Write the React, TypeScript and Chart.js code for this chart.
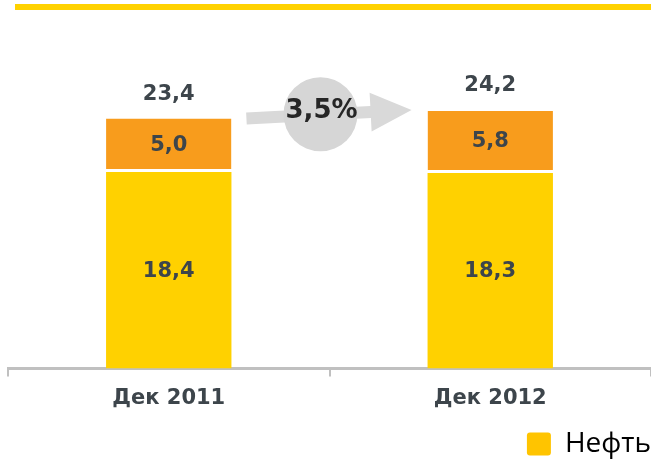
import React, { useEffect, useRef } from 'react';
import { Chart, registerables } from 'chart.js';

Chart.register(...registerables);

const categories = ['Дек 2011', 'Дек 2012'];
const oilValues = [18.4, 18.3];
const otherValues = [5.0, 5.8];
const totalValues = [23.4, 24.2];
const growthLabel = '3,5%';
const legendLabel = 'Нефть';

const YELLOW = '#FFD100';
const ORANGE = '#F89C1C';
const TEXT = '#3d454b';
const NUM_FONT = '"DejaVu Sans", sans-serif';

const fmt = (v: number) => v.toFixed(1).replace('.', ',');

const overlayPlugin = {
  id: 'overlay',
  afterDatasetsDraw(chart: any) {
    const ctx = chart.ctx;
    const y = chart.scales.y;
    const m0 = chart.getDatasetMeta(0);
    const m1 = chart.getDatasetMeta(1);
    ctx.save();
    ctx.textAlign = 'center';
    ctx.textBaseline = 'middle';
    ctx.fillStyle = TEXT;
    ctx.font = `bold 21px ${NUM_FONT}`;
    // segment labels
    m0.data.forEach((bar: any, i: number) => {
      const cy = (y.getPixelForValue(0) + y.getPixelForValue(oilValues[i])) / 2;
      ctx.fillText(fmt(oilValues[i]), bar.x, cy + 1);
    });
    m1.data.forEach((bar: any, i: number) => {
      const cy = (y.getPixelForValue(oilValues[i]) + y.getPixelForValue(totalValues[i])) / 2;
      ctx.fillText(fmt(otherValues[i]), bar.x, cy);
    });
    // totals
    m1.data.forEach((bar: any, i: number) => {
      const ty = y.getPixelForValue(totalValues[i]) - 24;
      ctx.fillText(fmt(totalValues[i]), bar.x, ty);
    });

    // arrow
    const b0 = m1.data[0];
    const b1 = m1.data[1];
    const x1 = b0.x + b0.width / 2 + 15;
    const y1 = y.getPixelForValue(totalValues[0]);
    const x2 = b1.x - b1.width / 2 - 16;
    const y2 = y.getPixelForValue(totalValues[1]);
    const L = Math.hypot(x2 - x1, y2 - y1);
    const ang = Math.atan2(y2 - y1, x2 - x1);
    ctx.save();
    ctx.translate(x1, y1);
    ctx.rotate(ang);
    ctx.fillStyle = '#d9d9d9';
    ctx.beginPath();
    ctx.moveTo(0, -6);
    ctx.lineTo(L - 41, -6);
    ctx.lineTo(L - 41, -19.5);
    ctx.lineTo(L, 0);
    ctx.lineTo(L - 41, 19.5);
    ctx.lineTo(L - 41, 6);
    ctx.lineTo(0, 6);
    ctx.closePath();
    ctx.fill();
    ctx.restore();

    // circle
    const cx = (b0.x + b1.x) / 2 - 9;
    const cyc = (y1 + y2) / 2;
    ctx.fillStyle = '#d6d6d6';
    ctx.beginPath();
    ctx.arc(cx, cyc, 37, 0, Math.PI * 2);
    ctx.fill();
    ctx.fillStyle = '#262626';
    ctx.font = `bold 26px ${NUM_FONT}`;
    ctx.fillText(growthLabel, cx + 1, cyc - 3);
    ctx.restore();
  },
};

export default function App() {
  const ref = useRef<HTMLCanvasElement>(null);
  useEffect(() => {
    if (!ref.current) return;
    const chart = new Chart(ref.current, {
      type: 'bar',
      data: {
        labels: categories,
        datasets: [
          {
            label: legendLabel,
            data: oilValues,
            backgroundColor: YELLOW,
            barPercentage: 0.39,
            categoryPercentage: 1,
          },
          {
            label: 'other',
            data: otherValues,
            backgroundColor: ORANGE,
            borderColor: '#ffffff',
            borderWidth: { bottom: 3, top: 0, left: 0, right: 0 },
            borderSkipped: false,
            barPercentage: 0.39,
            categoryPercentage: 1,
          },
        ],
      },
      options: {
        responsive: false,
        animation: false,
        devicePixelRatio: 1,
        layout: { padding: { top: 48, left: 8, right: 0, bottom: -7 } },
        plugins: {
          tooltip: { enabled: false },
          legend: {
            position: 'bottom',
            align: 'end',
            labels: {
              boxWidth: 24,
              boxHeight: 23,
              useBorderRadius: true,
              borderRadius: 3,
              color: '#4a5258',
              padding: 0,
              font: { family: '"Open Sans", sans-serif', size: 28, lineHeight: 1.2 },
              generateLabels: () => [
                {
                  text: legendLabel,
                  fillStyle: '#FFC400',
                  strokeStyle: '#FFC400',
                  lineWidth: 0,
                  hidden: false,
                  datasetIndex: 0,
                  borderRadius: 3,
                },
              ],
            },
          },
        },
        scales: {
          x: {
            stacked: true,
            offset: true,
            afterFit: (scale: any) => {
              scale.height = 61.4;
            },
            border: { display: true, color: '#c0c0c0', width: 3 },
            grid: {
              display: true,
              drawOnChartArea: false,
              drawTicks: true,
              tickLength: 8,
              color: '#c0c0c0',
              lineWidth: 2,
              offset: true,
            },
            ticks: {
              color: TEXT,
              padding: 9,
              font: { family: NUM_FONT, size: 21, weight: 'bold' },
            },
          },
          y: { stacked: true, display: false, min: 0, max: 30 },
        },
      },
      plugins: [overlayPlugin],
    });
    return () => chart.destroy();
  }, []);
  return (
    <div style={{ position: 'fixed', left: 0, top: 0, width: 651, height: 461, background: '#ffffff' }}>
      <div style={{ position: 'absolute', left: 15, top: 4, width: 636, height: 6, background: '#FFD200' }} />
      <canvas ref={ref} width={651} height={461} style={{ position: 'absolute', left: 0, top: 0 }} />
    </div>
  );
}
